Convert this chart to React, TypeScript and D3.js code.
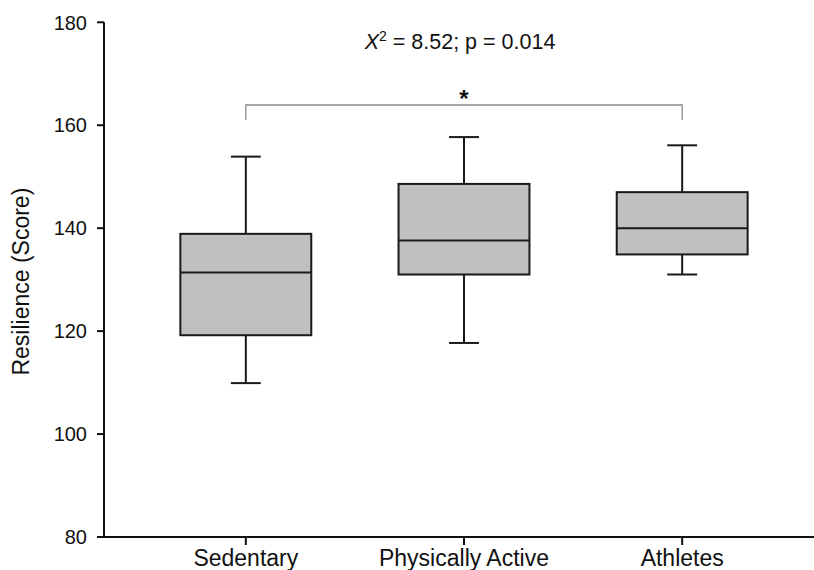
import React, { useEffect, useRef } from 'react';
import * as d3 from 'd3';

// Box plot values
const groups = ['Sedentary', 'Physically Active', 'Athletes'];
const whiskerLow = [109.9, 117.7, 131.0];
const q1 = [119.2, 131.0, 134.9];
const median = [131.4, 137.6, 140.0];
const q3 = [138.9, 148.6, 147.0];
const whiskerHigh = [153.9, 157.7, 156.1];
const yTicks = [80, 100, 120, 140, 160, 180];

const WIDTH = 814;
const HEIGHT = 570;

export default function App() {
  const svgRef = useRef<SVGSVGElement>(null);

  useEffect(() => {
    if (!svgRef.current) return;
    const svg = d3.select(svgRef.current);
    svg.selectAll('*').remove();

    const font = 'Arial, "Liberation Sans", sans-serif';
    const axisLeft = 104;
    const axisBottom = 537;

    const y = d3.scaleLinear().domain([80, 180]).range([axisBottom, 22.3]);
    const x = d3.scalePoint<string>()
      .domain(groups)
      .range([axisLeft, 824])
      .padding(0.65);

    const boxW = x.step() * 0.6;
    const capW = x.step() * 0.137;

    // y axis
    const gy = svg.append('g').attr('transform', `translate(${axisLeft},0)`);
    gy.append('line')
      .attr('x1', 0).attr('x2', 0)
      .attr('y1', y(180)).attr('y2', y(80))
      .attr('stroke', '#111').attr('stroke-width', 2);
    yTicks.forEach(t => {
      gy.append('line')
        .attr('x1', -7).attr('x2', 0)
        .attr('y1', y(t)).attr('y2', y(t))
        .attr('stroke', '#111').attr('stroke-width', 2);
      gy.append('text')
        .attr('x', -17).attr('y', y(t))
        .attr('dy', '0.36em')
        .attr('text-anchor', 'end')
        .attr('font-family', font)
        .attr('font-size', 20)
        .attr('fill', '#111')
        .text(t);
    });

    // x axis
    const gx = svg.append('g').attr('transform', `translate(0,${axisBottom})`);
    gx.append('line')
      .attr('x1', axisLeft - 1).attr('x2', WIDTH + 10)
      .attr('y1', 0).attr('y2', 0)
      .attr('stroke', '#111').attr('stroke-width', 2);
    groups.forEach(g => {
      const cx = x(g)!;
      gx.append('line')
        .attr('x1', cx).attr('x2', cx)
        .attr('y1', 0).attr('y2', 8)
        .attr('stroke', '#111').attr('stroke-width', 2);
      gx.append('text')
        .attr('x', cx).attr('y', 29)
        .attr('text-anchor', 'middle')
        .attr('font-family', font)
        .attr('font-size', 23)
        .attr('fill', '#111')
        .text(g);
    });

    // y axis title
    svg.append('text')
      .attr('transform', `translate(29,${(y(80) + y(180)) / 2 + 2}) rotate(-90)`)
      .attr('text-anchor', 'middle')
      .attr('font-family', font)
      .attr('font-size', 23)
      .attr('fill', '#111')
      .text('Resilience (Score)');

    // boxes
    const boxes = svg.append('g');
    groups.forEach((g, i) => {
      const cx = x(g)!;
      const stroke = '#1a1a1a';
      // whiskers
      boxes.append('line')
        .attr('x1', cx).attr('x2', cx)
        .attr('y1', y(whiskerHigh[i])).attr('y2', y(q3[i]))
        .attr('stroke', stroke).attr('stroke-width', 2);
      boxes.append('line')
        .attr('x1', cx).attr('x2', cx)
        .attr('y1', y(q1[i])).attr('y2', y(whiskerLow[i]))
        .attr('stroke', stroke).attr('stroke-width', 2);
      [whiskerHigh[i], whiskerLow[i]].forEach(v => {
        boxes.append('line')
          .attr('x1', cx - capW / 2).attr('x2', cx + capW / 2)
          .attr('y1', y(v)).attr('y2', y(v))
          .attr('stroke', stroke).attr('stroke-width', 2);
      });
      boxes.append('rect')
        .attr('x', cx - boxW / 2)
        .attr('y', y(q3[i]))
        .attr('width', boxW)
        .attr('height', y(q1[i]) - y(q3[i]))
        .attr('fill', '#c0c0c0')
        .attr('stroke', stroke)
        .attr('stroke-width', 2);
      boxes.append('line')
        .attr('x1', cx - boxW / 2).attr('x2', cx + boxW / 2)
        .attr('y1', y(median[i])).attr('y2', y(median[i]))
        .attr('stroke', stroke).attr('stroke-width', 2);
    });

    // significance bracket between Sedentary and Athletes
    const bx1 = x(groups[0])!;
    const bx2 = x(groups[2])!;
    const by = 105;
    svg.append('path')
      .attr('d', `M${bx1},${by + 15}V${by}H${bx2}V${by + 15}`)
      .attr('fill', 'none')
      .attr('stroke', '#8c8c8c')
      .attr('stroke-width', 1.3);
    svg.append('text')
      .attr('x', (bx1 + bx2) / 2)
      .attr('y', by + 2)
      .attr('text-anchor', 'middle')
      .attr('font-family', font)
      .attr('font-size', 24)
      .attr('font-weight', 'bold')
      .attr('fill', '#111')
      .text('*');

    // test statistic
    const title = svg.append('text')
      .attr('x', (bx1 + bx2) / 2 - 4)
      .attr('y', 49)
      .attr('text-anchor', 'middle')
      .attr('font-family', font)
      .attr('font-size', 21.5)
      .attr('fill', '#111');
    title.append('tspan').attr('font-style', 'italic').text('X');
    title.append('tspan').attr('font-size', 14).attr('dy', -8).text('2');
    title.append('tspan').attr('dy', 8).text(' = 8.52; p = 0.014');
  }, []);

  return (
    <svg
      ref={svgRef}
      width={WIDTH}
      height={HEIGHT}
      style={{ position: 'absolute', left: 0, top: 0, background: '#fff' }}
    />
  );
}
